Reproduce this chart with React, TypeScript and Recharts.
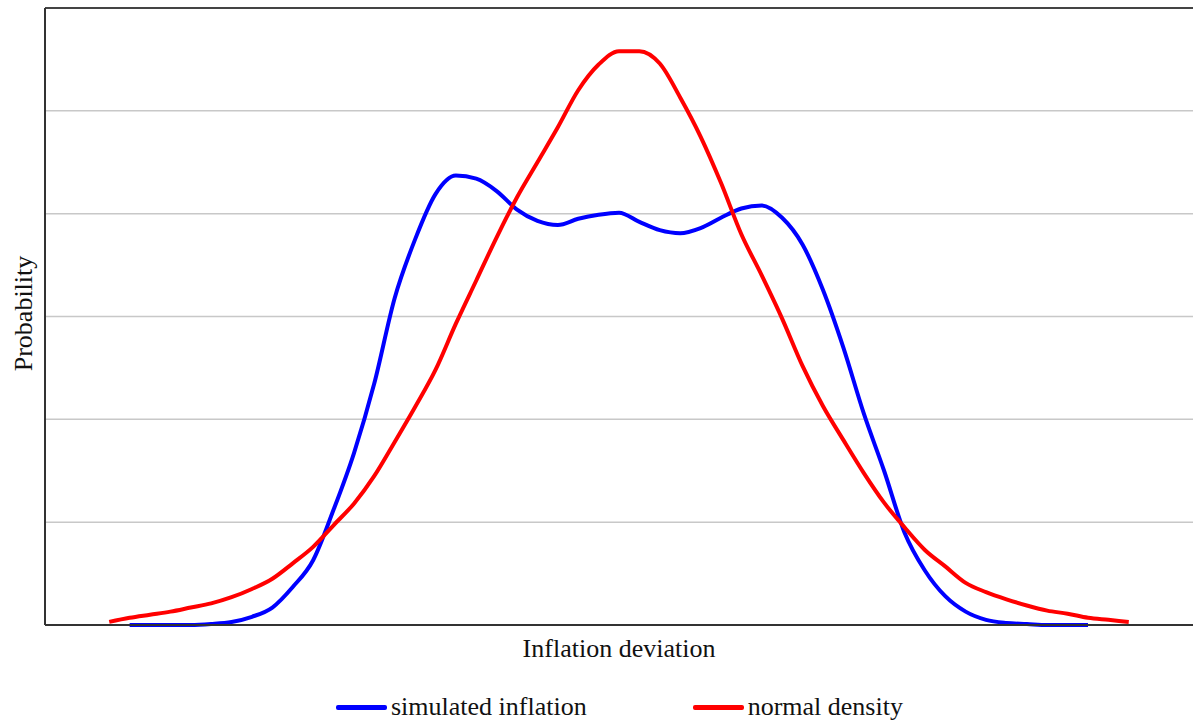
import React from 'react';
import { LineChart, Line, XAxis, YAxis, Legend, ReferenceLine } from 'recharts';

// inflation deviation (x) and the two densities
const deviation = [
  -5.0, -4.8, -4.6, -4.4, -4.2, -4.0, -3.8, -3.6, -3.4, -3.2, -3.0, -2.8, -2.6, -2.4, -2.2, -2.0, -1.8,
  -1.6, -1.4, -1.2, -1.0, -0.8, -0.6, -0.4, -0.2, 0.0, 0.2, 0.4, 0.6, 0.8, 1.0, 1.2, 1.4, 1.6, 1.8,
  2.0, 2.2, 2.4, 2.6, 2.8, 3.0, 3.2, 3.4, 3.6, 3.8, 4.0, 4.2, 4.4, 4.6, 4.8, 5.0,
];

const simulatedInflation = [
  null, 0.0, 0.0, 0.0, 0.0, 0.01, 0.03, 0.08, 0.17, 0.37, 0.63, 1.12, 1.67, 2.35, 3.18, 3.75, 4.19,
  4.37, 4.34, 4.22, 4.04, 3.93, 3.89, 3.95, 3.99, 4.01, 3.92, 3.84, 3.81, 3.86, 3.96, 4.05, 4.08, 3.96, 3.7,
  3.26, 2.7, 2.06, 1.5, 0.9, 0.53, 0.28, 0.13, 0.05, 0.02, 0.01, 0.0, 0.0, 0.0, null, null,
];

const normalDensity = [
  0.03, 0.07, 0.1, 0.13, 0.17, 0.21, 0.27, 0.35, 0.45, 0.6, 0.76, 0.97, 1.18, 1.45, 1.78, 2.12, 2.48,
  2.93, 3.35, 3.77, 4.16, 4.5, 4.84, 5.2, 5.45, 5.58, 5.58, 5.46, 5.13, 4.75, 4.3, 3.8, 3.4, 2.98, 2.52,
  2.13, 1.8, 1.48, 1.19, 0.95, 0.73, 0.57, 0.41, 0.32, 0.25, 0.19, 0.14, 0.11, 0.07, 0.05, 0.03,
];

const seriesNames = ['simulated inflation', 'normal density'];
const gridValues = [1, 2, 3, 4, 5];

const data = deviation.map((x, i) => ({
  x,
  sim: simulatedInflation[i],
  norm: normalDensity[i],
}));

const font = '"Liberation Serif", "DejaVu Serif", serif';

const LegendContent = (props: any) => {
  const items = [...(props.payload || [])].sort(
    (a: any, b: any) => seriesNames.indexOf(a.value) - seriesNames.indexOf(b.value),
  );
  return (
    <div style={{ display: 'flex', paddingLeft: 336, fontFamily: font, fontSize: 26, color: '#111', lineHeight: '30px' }}>
      {items.map((it: any, i: number) => (
        <div key={i} style={{ display: 'flex', alignItems: 'center', marginRight: i === 0 ? 106 : 0 }}>
          <span style={{ display: 'inline-block', width: 51, height: 5, borderRadius: 2, background: it.color, marginRight: 4 }} />
          <span>{it.value}</span>
        </div>
      ))}
    </div>
  );
};

export default function App() {
  return (
    <div style={{ width: 1193, height: 726, background: '#fff', position: 'relative' }}>
      <style>{'body{margin:0}'}</style>
      <LineChart width={1193} height={726} data={data} margin={{ top: 8, right: 0, left: 44, bottom: 70 }}>
        <XAxis
          dataKey="x"
          type="number"
          domain={[-5.63, 5.63]}
          height={1}
          tick={false}
          tickLine={false}
          axisLine={{ stroke: '#333', strokeWidth: 2 }}
          label={{
            content: (p: any) => {
              const vb = p.viewBox;
              return (
                <text x={vb.x + vb.width / 2} y={vb.y + 32} textAnchor="middle" fontFamily={font} fontSize={26} fill="#111">
                  Inflation deviation
                </text>
              );
            },
          }}
        />
        <YAxis
          domain={[0, 6]}
          width={1}
          tick={false}
          tickLine={false}
          axisLine={{ stroke: '#333', strokeWidth: 2 }}
          label={{
            content: (p: any) => {
              const vb = p.viewBox;
              const cx = 32;
              const cy = vb.y + vb.height / 2 - 3;
              return (
                <text x={cx} y={cy} transform={`rotate(-90 ${cx} ${cy})`} textAnchor="middle" fontFamily={font} fontSize={26} fill="#111">
                  Probability
                </text>
              );
            },
          }}
        />
        {gridValues.map((v) => (
          <ReferenceLine key={v} y={v} stroke="#c8c8c8" strokeWidth={1.5} />
        ))}
        <ReferenceLine y={6} stroke="#444" strokeWidth={2} />
        <Legend
          verticalAlign="bottom"
          content={<LegendContent />}
          wrapperStyle={{ position: 'absolute', left: 0, top: 692, width: 1193 }}
        />
        <Line
          type="monotone"
          dataKey="sim"
          name="simulated inflation"
          stroke="#0000ff"
          strokeWidth={4}
          dot={false}
          isAnimationActive={false}
        />
        <Line
          type="monotone"
          dataKey="norm"
          name="normal density"
          stroke="#ff0000"
          strokeWidth={4}
          dot={false}
          isAnimationActive={false}
        />
      </LineChart>
    </div>
  );
}
